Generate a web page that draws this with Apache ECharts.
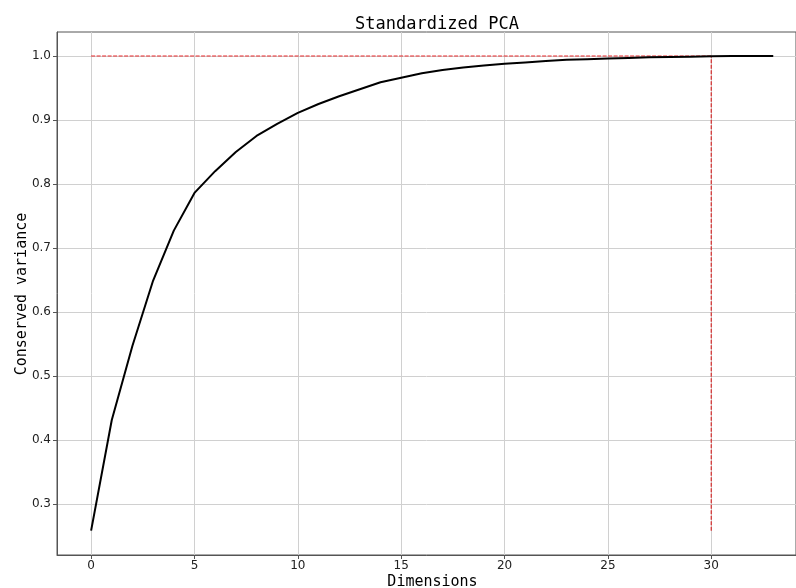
<!DOCTYPE html>
<html>
<head>
<meta charset="utf-8">
<script src="https://cdn.jsdelivr.net/npm/echarts@6/dist/echarts.min.js"></script>
<style>
  html, body { margin: 0; padding: 0; background: #fff; }
  #chart { width: 796px; height: 588px; }
</style>
</head>
<body>
<div id="chart"></div>
<script>
// cumulative explained variance per number of dimensions
const dims = [0, 1, 2, 3, 4, 5, 6, 7, 8, 9, 10, 11, 12, 13, 14, 15, 16,
  17, 18, 19, 20, 21, 22, 23, 24, 25, 26, 27, 28, 29, 30, 31, 32, 33];
const variance = [0.258, 0.431, 0.547, 0.649, 0.727, 0.786, 0.820, 0.850,
  0.875, 0.894, 0.911, 0.925, 0.937, 0.948, 0.959, 0.966, 0.973, 0.978,
  0.982, 0.985, 0.988, 0.990, 0.992, 0.994, 0.995, 0.996, 0.997, 0.998,
  0.9985, 0.999, 0.9995, 1.0, 1.0, 1.0];
const xTicks = [0, 5, 10, 15, 20, 25, 30];
const yTicks = [0.3, 0.4, 0.5, 0.6, 0.7, 0.8, 0.9, 1.0];
const threshold = 1.0;
const cutDim = 30;

const curve = dims.map((d, i) => [d, variance[i]]);
const hLine = [[0, threshold], [cutDim, threshold]];
const vLine = [[cutDim, variance[0]], [cutDim, threshold]];

const chart = echarts.init(document.getElementById('chart'));

const spine = { show: true, onZero: false, lineStyle: { color: '#555', width: 1 } };

chart.setOption({
  animation: false,
  title: {
    text: 'Standardized PCA',
    left: 432, top: 11, textAlign: 'center',
    textStyle: { fontFamily: 'DejaVu Sans Mono', fontSize: 17, fontWeight: 'normal', color: '#000' }
  },
  // y axis title placed by hand, the axis name gets pushed away by the labels
  graphic: [{
    type: 'text', x: 22, y: 294, rotation: Math.PI / 2,
    style: {
      text: 'Conserved variance', fill: '#000',
      font: '15px "DejaVu Sans Mono"', align: 'center', verticalAlign: 'middle'
    }
  }],
  grid: {
    left: 57, right: 0, top: 32, bottom: 33,
    outerBoundsMode: 'none', containLabel: false,
    show: true, borderColor: '#555', borderWidth: 1
  },
  xAxis: {
    type: 'value',
    min: -1.65, max: 34.1,
    name: 'Dimensions', nameLocation: 'middle', nameGap: 20, nameMoveOverlap: false,
    nameTextStyle: { fontFamily: 'DejaVu Sans Mono', fontSize: 15, color: '#000', padding: [0, 0, 0, 12] },
    axisLine: spine,
    axisTick: { show: true, length: 4, customValues: xTicks, lineStyle: { color: '#555' } },
    axisLabel: { customValues: xTicks, fontFamily: 'DejaVu Sans', fontSize: 12, color: '#222', margin: 5 },
    splitLine: { show: true, lineStyle: { color: '#d0d0d0', width: 1 } }
  },
  yAxis: {
    type: 'value',
    min: 0.22, max: 1.0375,
    axisLine: spine,
    axisTick: { show: true, length: 4, customValues: yTicks, lineStyle: { color: '#555' } },
    axisLabel: {
      customValues: yTicks, fontFamily: 'DejaVu Sans', fontSize: 12, color: '#222', margin: 6,
      formatter: v => v.toFixed(1)
    },
    splitLine: { show: true, lineStyle: { color: '#d0d0d0', width: 1 } }
  },
  series: [
    {
      type: 'line', data: hLine, symbol: 'none', silent: true,
      lineStyle: { color: '#e8282a', width: 1.2, type: [4, 1.5] }
    },
    {
      type: 'line', data: vLine, symbol: 'none', silent: true,
      lineStyle: { color: '#d42a2a', width: 1.2, type: [4, 1.5] }
    },
    {
      type: 'line', data: curve, symbol: 'none',
      lineStyle: { color: '#000', width: 2 }
    }
  ]
});
</script>
</body>
</html>
